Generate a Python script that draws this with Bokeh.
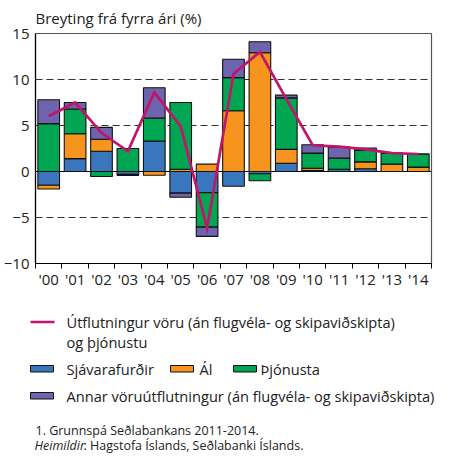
from bokeh.plotting import figure
from bokeh.models import Range1d, FixedTicker, Span
from bokeh.layouts import column
from bokeh.embed import file_html
from bokeh.resources import INLINE
from bokeh.core.properties import value

# ---------------- data ----------------
years = ["'00", "'01", "'02", "'03", "'04", "'05", "'06", "'07", "'08", "'09",
         "'10", "'11", "'12", "'13", "'14"]
sjavarafurdir = [-1.5, 1.4, 2.2, -0.3, 3.3, -2.35, -2.3, -1.6, -0.25, 0.9,
                 0.1, 0.25, 0.3, 0.0, 0.0]
al = [-0.4, 2.7, 1.3, 0.0, -0.4, 0.25, 0.8, 6.6, 12.9, 1.5,
      0.25, 0.0, 0.75, 0.8, 0.48]
thjonusta = [5.2, 2.7, -0.55, 2.5, 2.5, 7.25, -3.75, 3.6, -0.75, 5.6,
             1.65, 1.2, 1.25, 1.2, 1.42]
annar = [2.6, 0.7, 1.3, -0.12, 3.3, -0.45, -1.0, 2.0, 1.2, 0.3,
         0.9, 1.2, 0.25, 0.0, 0.0]
utflutningur = [6.0, 7.5, 4.2, 2.2, 8.6, 4.9, -6.15, 10.6, 13.0, 7.9,
                2.85, 2.7, 2.4, 2.0, 1.9]
y_ticks = [-10, -5, 0, 5, 10, 15]
grid_ticks = [-5, 5, 10]

series_names = ["Sjávarafurðir", "Ál", "Þjónusta",
                "Annar vöruútflutningur (án flugvéla- og skipaviðskipta)"]
line_name_1 = "Útflutningur vöru (án flugvéla- og skipaviðskipta)"
line_name_2 = "og þjónustu"
title_text = "Breyting frá fyrra ári (%)"
note_1 = "1. Grunnspá Seðlabankans 2011-2014."
note_2a = "Heimildir"
note_2b = ": Hagstofa Íslands, Seðlabanki Íslands."

colors = ["#3a76bd", "#f7941e", "#00a651", "#6e64ae"]
line_color = "#c0156a"
FONT = "Open Sans"

# ---------------- main chart ----------------
xs = list(range(len(years)))

p = figure(frame_width=396, frame_height=230, x_range=Range1d(-0.5, 14.5),
           y_range=Range1d(-10, 15), toolbar_location=None,
           output_backend="svg", title=title_text)
p.frame_align = False
p.min_border_left = 32
p.min_border_right = 12
p.min_border_top = 25
p.min_border_bottom = 30
p.title.text_font = FONT
p.title.text_font_size = "15px"
p.title.text_font_style = "normal"
p.title.text_color = "#222222"
p.title.align = "left"
p.title.standoff = 11

p.outline_line_color = "#555555"
p.outline_line_width = 1.2

p.xgrid.visible = False
p.ygrid.ticker = FixedTicker(ticks=grid_ticks)
p.ygrid.grid_line_color = "#333333"
p.ygrid.grid_line_dash = "7 4"
p.ygrid.grid_line_width = 1

p.add_layout(Span(location=0, dimension="width", line_color="black",
                  line_width=1, level="underlay"))

# stacked bars (positive up, negative down)
pos = [0.0] * len(xs)
neg = [0.0] * len(xs)
for vals, col in zip([sjavarafurdir, al, thjonusta, annar], colors):
    bottoms, tops = [], []
    for i, v in enumerate(vals):
        if v >= 0:
            bottoms.append(pos[i]); tops.append(pos[i] + v); pos[i] += v
        else:
            bottoms.append(neg[i]); tops.append(neg[i] + v); neg[i] += v
    p.vbar(x=xs, bottom=bottoms, top=tops, width=0.82, fill_color=col,
           line_color="#111111", line_width=1.1)

p.line(xs, utflutningur, line_color=line_color, line_width=2.7,
       line_join="miter")

# axes
p.xaxis.ticker = FixedTicker(ticks=xs, minor_ticks=[i - 0.5 for i in range(len(xs) + 1)])
p.xaxis.major_label_overrides = {i: lab for i, lab in zip(xs, years)}
p.xaxis.major_tick_line_color = None
p.xaxis.major_tick_out = 0
p.xaxis.major_tick_in = 0
p.xaxis.minor_tick_line_color = "black"
p.xaxis.minor_tick_out = 5
p.xaxis.minor_tick_in = 0
p.xaxis.major_label_standoff = 0
p.yaxis.ticker = FixedTicker(ticks=y_ticks)
p.yaxis.major_tick_line_color = None
p.yaxis.major_tick_out = 0
p.yaxis.major_tick_in = 0
p.yaxis.minor_tick_line_color = None
p.yaxis.major_label_standoff = 6
for ax in (p.xaxis, p.yaxis):
    ax.axis_line_color = "black"
    ax.axis_line_width = 1.2
    ax.major_label_text_font = FONT
    ax.major_label_text_font_size = "15px"
    ax.major_label_text_color = "#222222"

# ---------------- legend / notes ----------------
LH = 160
lf = figure(frame_width=440, frame_height=LH, x_range=Range1d(0, 440),
            y_range=Range1d(LH, 0), toolbar_location=None,
            x_axis_location=None, y_axis_location=None,
            output_backend="svg", min_border=0)
lf.frame_align = False
lf.grid.visible = False
lf.outline_line_color = None

lf.line([30, 54], [28.5, 28.5], line_color=line_color, line_width=2.7)
txt = dict(text_font=value(FONT), text_font_size="14.6px",
           text_baseline="middle", text_align="left", text_color="#222222")
lf.text([66], [28], text=[line_name_1], **txt)
lf.text([66], [48], text=[line_name_2], **txt)

box_lefts = [30, 170, 233]
box_text_x = [66, 199, 260]
for i in range(3):
    lf.quad(left=[box_lefts[i]], right=[box_lefts[i] + 23], top=[72], bottom=[78.5],
            fill_color=colors[i], line_color="#111111", line_width=1)
    lf.text([box_text_x[i]], [75], text=[series_names[i]], **txt)
lf.quad(left=[30], right=[53], top=[99], bottom=[105.5],
        fill_color=colors[3], line_color="#111111", line_width=1)
lf.text([66], [102], text=[series_names[3]], **txt)

ntxt = dict(txt, text_font_size="12.5px")
lf.text([35], [137], text=[note_1], **ntxt)
lf.text([34], [152], text=[note_2a], text_font_style="italic", **ntxt)
lf.text([83], [152], text=[note_2b], **ntxt)

layout = column(p, lf, spacing=0)
open("out.html", "w").write(file_html(layout, INLINE))
